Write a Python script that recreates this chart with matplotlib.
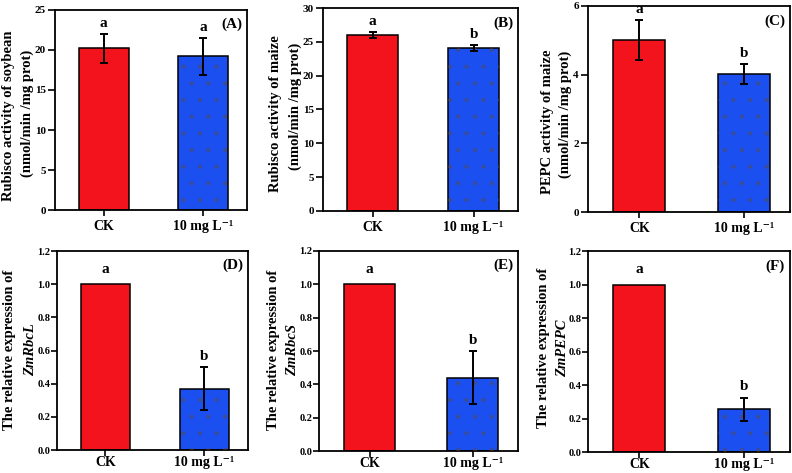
import matplotlib
matplotlib.use("Agg")
import matplotlib.pyplot as plt
from matplotlib.ticker import FormatStrFormatter

plt.rcParams['font.family'] = ['Liberation Serif', 'DejaVu Serif']
plt.rcParams['font.weight'] = 'bold'
plt.rcParams['hatch.linewidth'] = 0.5

categories = ['CK', '10 mg L\u207b\u00b9']
panel_ids = ['(A)', '(B)', '(C)', '(D)', '(E)', '(F)']
ylabel_line1 = ['Rubisco activity of soybean', 'Rubisco activity of maize', 'PEPC activity of maize',
                'The relative expression of', 'The relative expression of', 'The relative expression of']
ylabel_line2 = ['(nmol/min /mg prot)', '(nmol/min /mg prot)', '(nmol/min /mg prot)',
                'ZmRbcL', 'ZmRbcS', 'ZmPEPC']
ck_values = [20.2, 26.0, 5.0, 1.0, 1.0, 1.0]
ck_errors = [1.8, 0.5, 0.58, 0.0, 0.0, 0.0]
trt_values = [19.2, 24.1, 4.02, 0.37, 0.44, 0.255]
trt_errors = [2.3, 0.4, 0.30, 0.13, 0.16, 0.07]
ck_letters = ['a', 'a', 'a', 'a', 'a', 'a']
trt_letters = ['a', 'b', 'b', 'b', 'b', 'b']
ymax = [25, 30, 6, 1.2, 1.2, 1.2]
ystep = [5, 5, 2, 0.2, 0.2, 0.2]

W, H = 792, 473
fig = plt.figure(figsize=(W / 100, H / 100), dpi=100)

# axes boxes in pixels: left, right, top, bottom
boxes = [(55, 247, 10, 210), (323, 518, 8, 211), (588, 790, 6, 212),
         (57, 248, 251, 450), (319, 518, 251, 451), (588, 790, 251, 452)]
# ylabel line x positions and center y (pixels): x1, y1, x2, y2
lab_pos = [(9, 116, 27, 113), (276, 114, 295, 106), (547, 122, 565, 114),
           (10, 350, 31, 350), (274, 350, 293, 350), (544, 348, 563, 348)]

red = '#F2131D'
blue = '#1B4FF0'

for i in range(6):
    l, r, t, b = boxes[i]
    ax = fig.add_axes([l / W, 1 - b / H, (r - l) / W, (b - t) / H])
    x = [0, 1]
    ax.bar(x[0], ck_values[i], width=0.5, color=red, edgecolor='black', linewidth=1.1, zorder=2)
    ax.bar(x[1], trt_values[i], width=0.5, color=blue, edgecolor='black', linewidth=1.1, zorder=2)
    ax.bar(x[1], trt_values[i], width=0.5, facecolor='none', edgecolor='#5b4a3a', linewidth=0,
           hatch='.', alpha=0.45, zorder=3)
    if ck_errors[i] > 0:
        ax.errorbar(x[0], ck_values[i], yerr=ck_errors[i], fmt='none', ecolor='black',
                    elinewidth=1.4, capsize=3, capthick=1.4, zorder=4)
    ax.errorbar(x[1], trt_values[i], yerr=trt_errors[i], fmt='none', ecolor='black',
                elinewidth=1.4, capsize=3, capthick=1.4, zorder=4)
    for xi, v, e, let in [(x[0], ck_values[i], ck_errors[i], ck_letters[i]),
                          (x[1], trt_values[i], trt_errors[i], trt_letters[i])]:
        off = 3 if e > 0 else 6
        ax.annotate(let, (xi, v + e), xytext=(0, off), textcoords='offset points',
                    ha='center', va='bottom', fontsize=11, fontweight='bold')
    ax.text(0.975, 0.96, panel_ids[i], transform=ax.transAxes, ha='right', va='top',
            fontsize=11, fontweight='bold')
    ax.set_xlim(-0.49, 1.44)
    ax.set_ylim(0, ymax[i])
    n = int(round(ymax[i] / ystep[i]))
    ax.set_yticks([k * ystep[i] for k in range(n + 1)])
    if ystep[i] < 1:
        ax.yaxis.set_major_formatter(FormatStrFormatter('%.1f'))
    ax.set_xticks(x)
    ax.set_xticklabels(categories)
    if i < 3:
        ax.tick_params(axis='y', direction='out', length=5, width=1.2, labelsize=8, pad=1.5)
    else:
        ax.tick_params(axis='y', direction='out', length=4, width=1.2, labelsize=7.5, pad=0.8)
    ax.tick_params(axis='x', direction='out', length=4, width=1.2, labelsize=10,
                   pad=3.5 if i < 3 else 0.5)
    for lab in ax.get_yticklabels() + ax.get_xticklabels():
        lab.set_fontweight('bold')
    for s in ax.spines.values():
        s.set_linewidth(1.3)
    x1, y1, x2, y2 = lab_pos[i]
    fig.text(x1 / W, 1 - y1 / H, ylabel_line1[i], rotation=90, ha='center', va='center',
             fontsize=10.5, fontweight='bold')
    style = 'italic' if i >= 3 else 'normal'
    fig.text(x2 / W, 1 - y2 / H, ylabel_line2[i], rotation=90, ha='center', va='center',
             fontsize=10.5, fontweight='bold', fontstyle=style)

fig.savefig('out.png', dpi=100)
